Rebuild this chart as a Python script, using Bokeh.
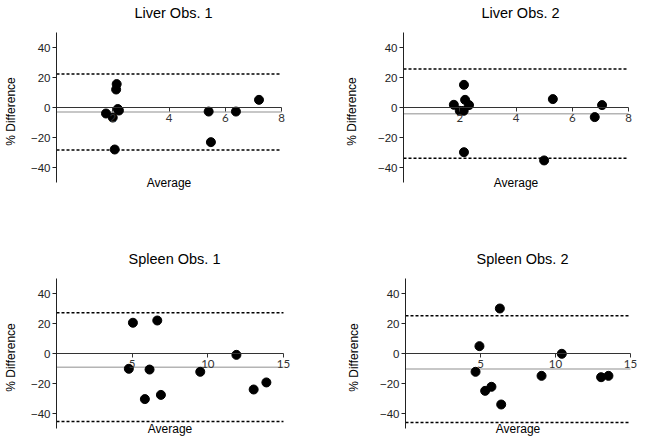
from bokeh.plotting import figure
from bokeh.models import Range1d, FixedTicker, Label, Title
from bokeh.layouts import column, row
from bokeh.embed import file_html
from bokeh.resources import INLINE

# ---- data ----
titles = ["Liver Obs. 1", "Liver Obs. 2", "Spleen Obs. 1", "Spleen Obs. 2"]

liver1_avg = [1.76, 2.00, 2.14, 2.12, 2.18, 2.22, 2.07, 5.41, 5.49, 6.38, 7.20]
liver1_diff = [-4.0, -6.7, 15.6, 12.0, -1.0, -2.0, -28.0, -2.7, -23.1, -2.7, 5.1]

liver2_avg = [1.79, 2.00, 2.14, 2.15, 2.19, 2.33, 2.15, 5.00, 5.31, 6.80, 7.06]
liver2_diff = [1.8, -2.2, -2.2, 15.1, 5.1, 1.6, -29.8, -35.3, 5.6, -6.4, 1.6]

spleen1_avg = [5.05, 6.66, 4.78, 6.15, 5.84, 6.90, 9.50, 11.89, 13.03, 13.87]
spleen1_diff = [20.5, 22.0, -10.2, -10.7, -30.4, -27.6, -12.2, -0.9, -24.0, -19.3]

spleen2_avg = [6.29, 4.93, 4.67, 5.31, 5.73, 6.38, 9.07, 10.42, 13.04, 13.53]
spleen2_diff = [30.0, 4.9, -12.2, -24.9, -22.2, -34.0, -14.9, -0.2, -15.8, -14.9]

# bias (mean difference) and limits of agreement
bias = [-3.0, -4.1, -9.1, -10.4]
upper_loa = [22.3, 25.6, 27.1, 25.1]
lower_loa = [-28.4, -33.8, -45.3, -46.0]

liver_xmax = 8
spleen_xmax = 15
liver_xticks = [2, 4, 6, 8]
spleen_xticks = [5, 10, 15]
y_ticks = [-40, -20, 0, 20, 40]
y_min, y_max = -50, 50

x_label = "Average"
y_label = "% Difference"

PX_PER_Y = 1.5        # pixels per % unit
Y_PAD_PX = 8          # room below the axis for the "Average" text
X_PAD_PX = 9          # room right of the axis end for the last tick label


def make_panel(title, avg, diff, b, up, lo, xmax, xticks, px_per_x,
               left, right, top, bottom, lab_standoff):
    x_pad = X_PAD_PX / px_per_x
    y_pad = Y_PAD_PX / PX_PER_Y
    fw = int(round(px_per_x * (xmax + x_pad)))
    fh = int(round(PX_PER_Y * (y_max - y_min) + Y_PAD_PX))
    p = figure(output_backend="svg", toolbar_location=None,
               frame_width=fw, frame_height=fh,
               x_range=Range1d(0, xmax + x_pad),
               y_range=Range1d(y_min - y_pad, y_max),
               min_border_left=left, min_border_right=right,
               min_border_top=top, min_border_bottom=bottom,
               title=None)
    p.outline_line_color = None
    p.xgrid.visible = False
    p.ygrid.visible = False
    p.background_fill_color = "white"
    p.border_fill_color = "white"

    # small spacer between frame and title, then the title itself
    p.add_layout(Title(text=" ", text_font_size="1px", standoff=9), "above")
    p.add_layout(Title(text=title, align="center", text_font="Liberation Sans",
                       text_font_size="14.5px", text_font_style="normal",
                       text_color="black", standoff=0), "above")

    # y axis
    ya = p.yaxis[0]
    ya.bounds = (y_min, y_max)
    ya.ticker = FixedTicker(ticks=y_ticks, minor_ticks=[])
    ya.major_tick_in = 0
    ya.major_tick_out = 4
    ya.minor_tick_line_color = None
    ya.axis_line_color = "#222222"
    ya.major_tick_line_color = "#222222"
    ya.major_label_text_font = "Liberation Sans"
    ya.major_label_text_font_size = "11.5px"
    ya.major_label_text_color = "#222222"
    ya.major_label_standoff = 2
    ya.axis_label = y_label
    ya.axis_label_text_font = "Liberation Sans"
    ya.axis_label_text_font_size = "12px"
    ya.axis_label_text_font_style = "normal"
    ya.axis_label_text_color = "black"
    ya.axis_label_standoff = lab_standoff

    # x axis crossing at y = 0
    xa = p.xaxis[0]
    xa.fixed_location = 0
    xa.bounds = (0, xmax)
    xa.ticker = FixedTicker(ticks=xticks, minor_ticks=[])
    xa.major_tick_in = 0
    xa.major_tick_out = 4
    xa.minor_tick_line_color = None
    xa.axis_line_color = "#333333"
    xa.major_tick_line_color = "#333333"
    xa.major_label_text_font = "Lato"
    xa.major_label_text_font_size = "11.5px"
    xa.major_label_text_color = "#333333"
    xa.major_label_standoff = 2

    # bias and limits of agreement
    p.line([0, xmax], [b, b], line_color="#b4b4b4", line_width=1.5)
    for loc in (up, lo):
        p.line([0, xmax], [loc, loc], line_color="black", line_width=1.5,
               line_dash="3 2")

    p.scatter(avg, diff, size=9, color="black")

    p.add_layout(Label(x=xmax / 2, y=y_min, text=x_label, text_align="center",
                       text_baseline="middle", text_font="Liberation Sans",
                       text_font_size="12px", text_color="black"))
    return p


p1 = make_panel(titles[0], liver1_avg, liver1_diff, bias[0], upper_loa[0], lower_loa[0],
                liver_xmax, liver_xticks, 225 / 8, 47, 5, 32, 10, 10)
p2 = make_panel(titles[1], liver2_avg, liver2_diff, bias[1], upper_loa[1], lower_loa[1],
                liver_xmax, liver_xticks, 225 / 8, 108, 2, 32, 10, 16)
p3 = make_panel(titles[2], spleen1_avg, spleen1_diff, bias[2], upper_loa[2], lower_loa[2],
                spleen_xmax, spleen_xticks, 15.1, 47, 5, 78, 0, 10)
p4 = make_panel(titles[3], spleen2_avg, spleen2_diff, bias[3], upper_loa[3], lower_loa[3],
                spleen_xmax, spleen_xticks, 15.0, 108, 2, 78, 0, 16)

layout = column(row(p1, p2), row(p3, p4))

open("out.html", "w").write(file_html(layout, INLINE))
